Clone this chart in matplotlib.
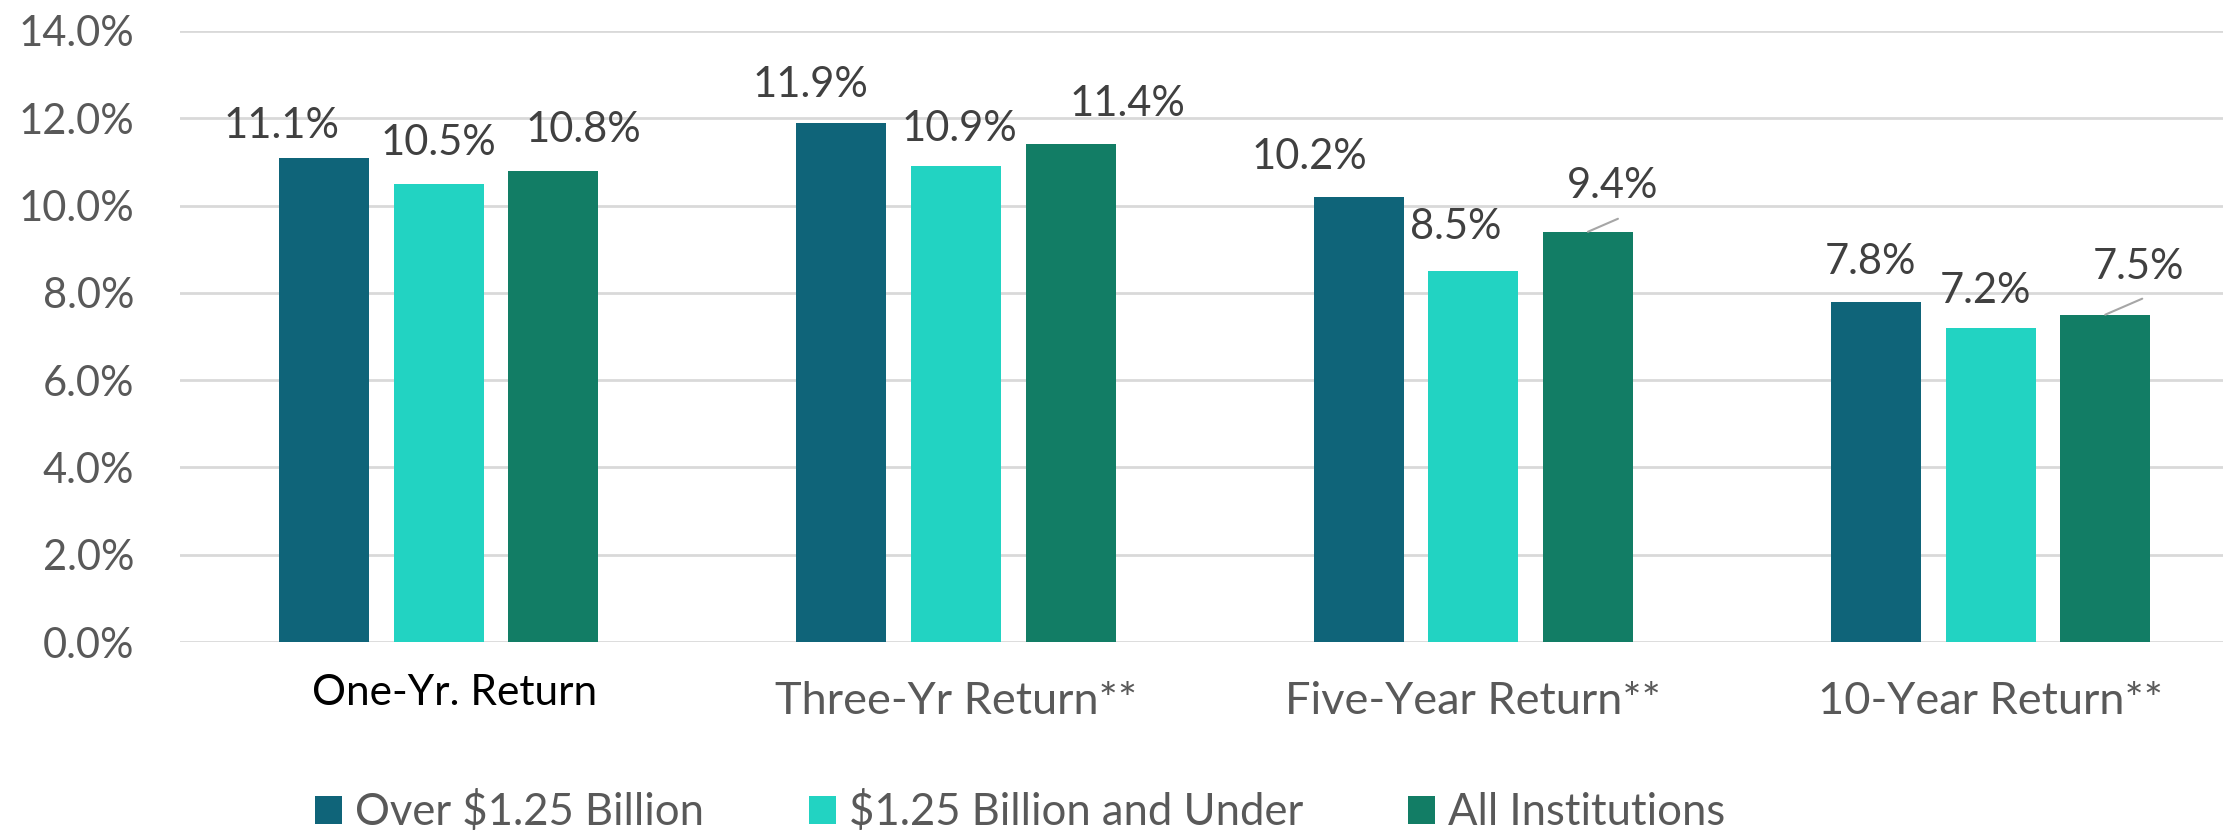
import matplotlib
matplotlib.use("Agg")
import matplotlib.pyplot as plt
import matplotlib.transforms as mtransforms
from matplotlib.patches import Patch
import numpy as np

categories = ["One-Yr. Return", "Three-Yr Return**", "Five-Year Return**", "10-Year Return**"]
series_names = ["Over $1.25 Billion", "$1.25 Billion and Under", "All Institutions"]
over_125 = [11.1, 11.9, 10.2, 7.8]
under_125 = [10.5, 10.9, 8.5, 7.2]
all_inst = [10.8, 11.4, 9.4, 7.5]
yticks = [0, 2, 4, 6, 8, 10, 12, 14]

colors = ["#0F6479", "#22D3C2", "#127D65"]

# label nudges (pixels) relative to bar top centre, per series x category
label_nudges = [
    [(-42, -32), (-31, -38), (-49, -40), (-5, -40)],
    [(0, -41), (3, -37), (-18, -44), (-5, -37)],
    [(30, -41), (57, -40), (25, -46), (33, -48)],
]
# leader lines (pixels) for labels pulled away from their bars
leaders = {(2, 2): (30, -13), (2, 3): (37, -16)}

plt.rcParams['font.family'] = ['Lato', 'DejaVu Sans']

W, H = 2223, 832
fig = plt.figure(figsize=(W / 100, H / 100), dpi=100)
left_px, bottom_px, top_px = 180, 642, 31
ax = fig.add_axes([left_px / W, 1 - bottom_px / H, 1 - left_px / W, (bottom_px - top_px) / H])

step = 517.3
x = np.arange(len(categories))
bw = 90 / step
off = 114.7 / step
series = [over_125, under_125, all_inst]
for i, (vals, c, name) in enumerate(zip(series, colors, series_names)):
    ax.bar(x + (i - 1) * off, vals, width=bw, color=c, label=name, zorder=2)

ax.set_xlim(-0.5, -0.5 + (W - left_px) / step)
ax.set_ylim(0, 14)
ax.set_yticks(yticks)
ax.set_yticklabels([f"{v:.1f}%" for v in yticks])
ax.yaxis.grid(True, color="#D9D9D9", linewidth=2, zorder=0)
ax.set_axisbelow(True)
for s in ax.spines.values():
    s.set_visible(False)
ax.tick_params(axis='y', length=0, pad=33, labelsize=30, labelcolor="#595959")
ax.set_xticks(x)
ax.set_xticklabels(categories)
ax.tick_params(axis='x', length=0, pad=28, labelsize=32.5, labelcolor="#595959")
first = ax.get_xticklabels()[0]
first.set_color("black")
first.set_fontsize(30.5)
first.set_transform(first.get_transform() +
                    mtransforms.ScaledTranslation(16 / 100, 7 / 100, fig.dpi_scale_trans))

px2pt = 0.72
for i, vals in enumerate(series):
    for j, v in enumerate(vals):
        dx, dy = label_nudges[i][j]
        ax.annotate(f"{v:.1f}%", xy=(x[j] + (i - 1) * off, v), xytext=(dx * px2pt, -dy * px2pt),
                    textcoords='offset points', ha='center', va='center',
                    fontsize=30, color="#404040", zorder=3)
        if (i, j) in leaders:
            lx, ly = leaders[(i, j)]
            ax.annotate("", xy=(x[j] + (i - 1) * off, v), xytext=(lx * px2pt, -ly * px2pt),
                        textcoords='offset points',
                        arrowprops=dict(arrowstyle='-', color="#A6A6A6", lw=1.5,
                                        shrinkA=0, shrinkB=0), zorder=3)

handles = [Patch(facecolor=c, edgecolor='none') for c in colors]
leg = fig.legend(handles, series_names, loc='center', bbox_to_anchor=(1020 / W, 1 - 812 / H),
                 ncol=3, frameon=False, fontsize=31.4, handlelength=0.62, handleheight=0.62,
                 handletextpad=0.3, columnspacing=2.4, borderaxespad=0, borderpad=0)
for t in leg.get_texts():
    t.set_color("#595959")

fig.savefig("out.png", dpi=100)
